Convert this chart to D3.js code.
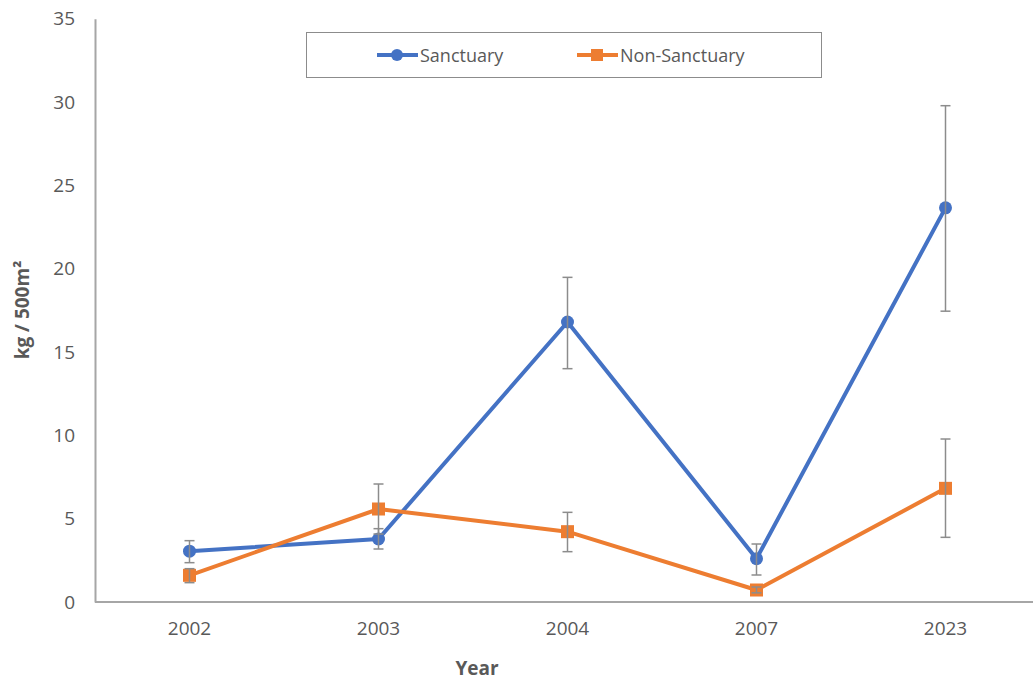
<!DOCTYPE html>
<html lang="en">
<head>
    <meta charset="utf-8">
    <style>
        body { margin: 0; background: #fff; }
        svg { display: block; font-family: "Open Sans", sans-serif; }
        .tick text { fill: #595959; font-size: 19px; font-family: "Open Sans", sans-serif; }
    </style>
</head>
<body>
<svg id="mainSVG" width="1033" height="682"></svg>
<script src="https://cdn.jsdelivr.net/npm/d3@7"></script>
<script>

    // values
    var years = ["2002", "2003", "2004", "2007", "2023"];
    var sanctuary = [3.05, 3.78, 16.8, 2.6, 23.65];
    var sanctuaryLow = [2.36, 3.18, 14.0, 1.62, 17.45];
    var sanctuaryHigh = [3.68, 4.4, 19.48, 3.48, 29.78];
    var nonSanctuary = [1.6, 5.58, 4.22, 0.72, 6.82];
    var nonSanctuaryLow = [1.16, 4.08, 3.02, 0.55, 3.88];
    var nonSanctuaryHigh = [2.0, 7.08, 5.38, 0.9, 9.78];
    var yTicks = [0, 5, 10, 15, 20, 25, 30, 35];

    var blue = "#4472C4", orange = "#ED7D31", grey = "#8c8c8c";

    var svg = d3.select("#mainSVG");

    var x = d3.scaleBand()
        .domain(years)
        .range([95, 1040]);

    var y = d3.scaleLinear()
        .domain([0, 35])
        .range([602, 18.7]);

    function cx(d, i) { return x(years[i]) + x.bandwidth() / 2; }

    // y axis
    var yAxis = svg.append("g")
        .attr("transform", "translate(95,0)")
        .call(d3.axisLeft(y).tickValues(yTicks).tickSize(0).tickPadding(20));
    yAxis.select(".domain").attr("stroke", "#a6a6a6").attr("stroke-width", 2);

    // x axis
    var xAxis = svg.append("g")
        .attr("transform", "translate(0,602)")
        .call(d3.axisBottom(x).tickSize(0).tickPadding(20));
    xAxis.select(".domain").attr("stroke", "#a6a6a6").attr("stroke-width", 2)
        .attr("d", "M95,0H1033");

    // axis titles
    svg.append("text")
        .attr("x", 477).attr("y", 675)
        .attr("text-anchor", "middle")
        .attr("font-weight", "bold")
        .attr("font-size", 19)
        .attr("fill", "#595959")
        .text("Year");

    svg.append("text")
        .attr("transform", "translate(29,310) rotate(-90)")
        .attr("text-anchor", "middle")
        .attr("font-weight", "bold")
        .attr("font-size", 19)
        .attr("fill", "#595959")
        .text("kg / 500m²");

    var line = d3.line()
        .x(function (d, i) { return cx(d, i); })
        .y(function (d) { return y(d); });

    // Sanctuary
    svg.append("path")
        .datum(sanctuary)
        .attr("fill", "none")
        .attr("stroke", blue)
        .attr("stroke-width", 4)
        .attr("stroke-linejoin", "round")
        .attr("d", line);

    svg.append("g").selectAll("circle")
        .data(sanctuary)
        .enter().append("circle")
        .attr("cx", cx)
        .attr("cy", function (d) { return y(d); })
        .attr("r", 6.5)
        .attr("fill", blue);

    // Non-Sanctuary
    svg.append("path")
        .datum(nonSanctuary)
        .attr("fill", "none")
        .attr("stroke", orange)
        .attr("stroke-width", 4)
        .attr("stroke-linejoin", "round")
        .attr("d", line);

    svg.append("g").selectAll("rect")
        .data(nonSanctuary)
        .enter().append("rect")
        .attr("x", function (d, i) { return cx(d, i) - 6.5; })
        .attr("y", function (d) { return y(d) - 6.5; })
        .attr("width", 13)
        .attr("height", 13)
        .attr("fill", orange);

    // error bars on top
    function errorBars(low, high) {
        var g = svg.append("g")
            .attr("stroke", grey)
            .attr("stroke-width", 1.5);
        low.forEach(function (lo, i) {
            var px = cx(null, i);
            g.append("line").attr("x1", px).attr("x2", px)
                .attr("y1", y(lo)).attr("y2", y(high[i]));
            g.append("line").attr("x1", px - 5).attr("x2", px + 5)
                .attr("y1", y(lo)).attr("y2", y(lo));
            g.append("line").attr("x1", px - 5).attr("x2", px + 5)
                .attr("y1", y(high[i])).attr("y2", y(high[i]));
        });
    }
    errorBars(sanctuaryLow, sanctuaryHigh);
    errorBars(nonSanctuaryLow, nonSanctuaryHigh);

    // legend
    var legend = svg.append("g");
    legend.append("rect")
        .attr("x", 306.5).attr("y", 32.5)
        .attr("width", 515).attr("height", 45)
        .attr("fill", "#fff")
        .attr("stroke", "#8c8c8c")
        .attr("stroke-width", 1);

    var items = [
        { name: "Sanctuary", color: blue, x: 377, shape: "circle" },
        { name: "Non-Sanctuary", color: orange, x: 577, shape: "square" }
    ];
    items.forEach(function (it) {
        legend.append("line")
            .attr("x1", it.x).attr("x2", it.x + 41)
            .attr("y1", 55).attr("y2", 55)
            .attr("stroke", it.color).attr("stroke-width", 4);
        if (it.shape == "circle") {
            legend.append("circle").attr("cx", it.x + 20).attr("cy", 55).attr("r", 6).attr("fill", it.color);
        } else {
            legend.append("rect").attr("x", it.x + 14).attr("y", 49).attr("width", 12).attr("height", 12).attr("fill", it.color);
        }
        legend.append("text")
            .attr("x", it.x + 43).attr("y", 61.5)
            .attr("font-size", 18)
            .attr("fill", "#595959")
            .text(it.name);
    });

</script>
</body>
</html>
